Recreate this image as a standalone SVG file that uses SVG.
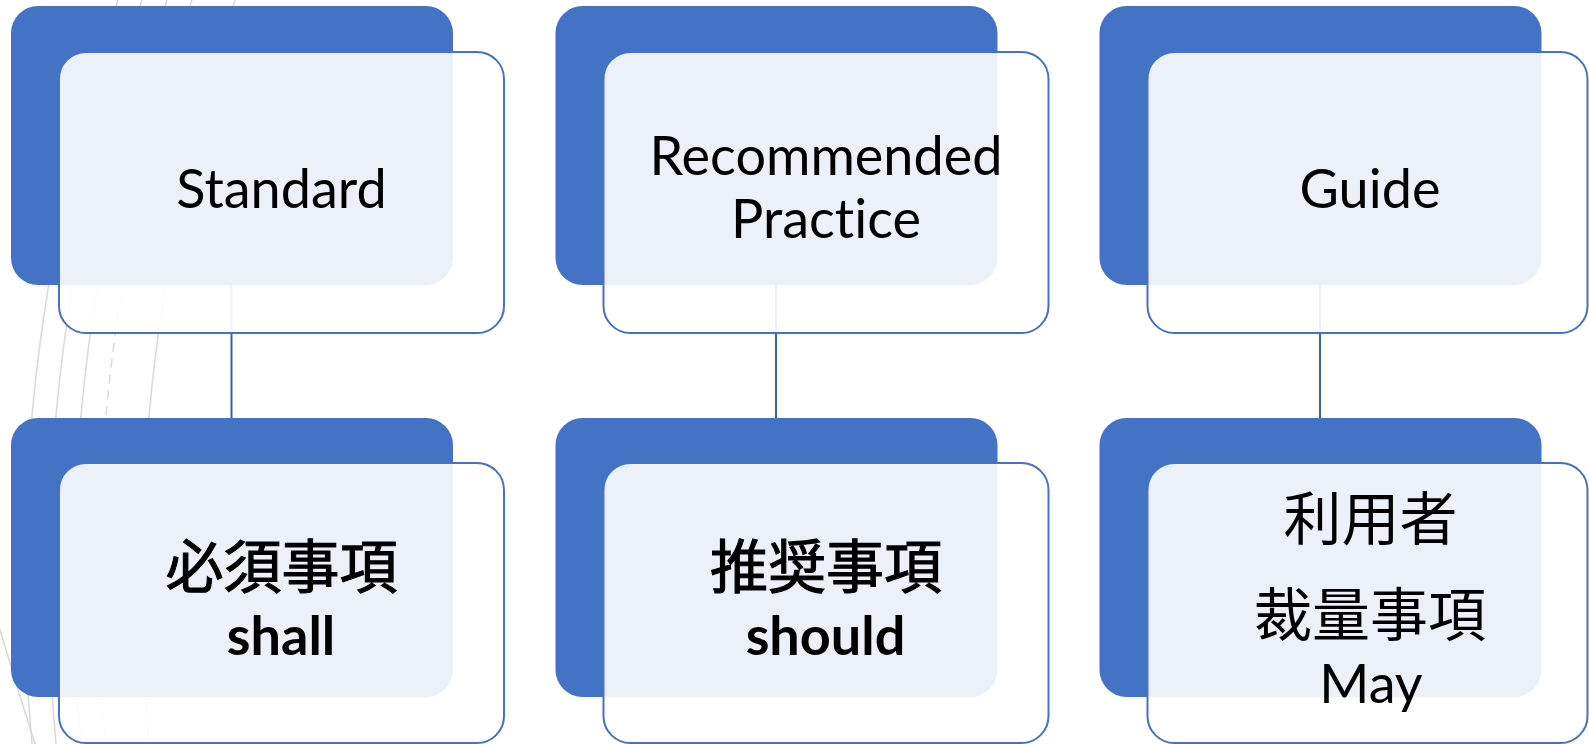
<svg xmlns="http://www.w3.org/2000/svg" width="1589" height="744" viewBox="0 0 1589 744">
  <style>
    .bg { fill: none; stroke: #D9D9D9; stroke-width: 1.5; }
    .dash { stroke-dasharray: 9 7; }
    .back { fill: #4472C4; }
    .front { fill: #FFFFFF; fill-opacity: 0.9; stroke: #4472C4; stroke-width: 2; }
    .conn { stroke: #3762AE; stroke-width: 2; fill: none; }
    .lat { font-family: Lato, "Liberation Sans", sans-serif; font-size: 54px; fill: #000; text-anchor: middle; font-variant-ligatures: none; }
    .bold { font-weight: bold; }
    .cjk { font-family: "Noto Sans CJK JP", "Noto Sans CJK SC", sans-serif; font-size: 58px; fill: #000; text-anchor: middle; }
    .cjkb { stroke: #000; stroke-width: 1.1; }
  </style>
  <rect width="1589" height="744" fill="#FFFFFF"/>
  <g id="background">
    <path class="bg" d="M118,0 Q-2,372 32,744"/>
    <path class="bg" d="M142,0 Q22,372 56,744"/>
    <path class="bg" d="M167,0 Q47,372 81,744"/>
    <path class="bg dash" d="M192,0 Q72,372 106,744"/>
    <path class="bg" d="M235,0 Q115,372 149,744"/>
    <path class="bg" d="M-20,560 Q5,650 35,744"/>
  </g>
  <g id="connectors">
    <line class="conn" x1="231.5" y1="285" x2="231.5" y2="418"/>
    <line class="conn" x1="776" y1="285" x2="776" y2="418"/>
    <line class="conn" x1="1320" y1="285" x2="1320" y2="418"/>
  </g>
  <g id="node-standard">
    <rect class="back" x="11" y="6" width="442" height="279" rx="27"/>
    <rect class="front" x="59" y="52" width="445" height="281" rx="27"/>
    <text class="lat" x="281.5" y="208">Standard</text>
  </g>
  <g id="node-recommended">
    <rect class="back" x="555.5" y="6" width="442" height="279" rx="27"/>
    <rect class="front" x="603.5" y="52" width="445" height="281" rx="27"/>
    <text class="lat" x="826" y="175">Recommended</text>
    <text class="lat" x="826" y="238">Practice</text>
  </g>
  <g id="node-guide">
    <rect class="back" x="1099.5" y="6" width="442" height="279" rx="27"/>
    <rect class="front" x="1147.5" y="52" width="440" height="281" rx="27"/>
    <text class="lat" x="1370" y="208">Guide</text>
  </g>
  <g id="node-shall">
    <rect class="back" x="11" y="418" width="442" height="279" rx="27"/>
    <rect class="front" x="59" y="463" width="445" height="280" rx="27"/>
    <text class="cjk cjkb" x="281.5" y="588">必須事項</text>
    <text class="lat bold" x="281" y="655">shall</text>
  </g>
  <g id="node-should">
    <rect class="back" x="555.5" y="418" width="442" height="279" rx="27"/>
    <rect class="front" x="603.5" y="463" width="445" height="280" rx="27"/>
    <text class="cjk cjkb" x="826" y="588">推奨事項</text>
    <text class="lat bold" x="825.5" y="655">should</text>
  </g>
  <g id="node-may">
    <rect class="back" x="1099.5" y="418" width="442" height="279" rx="27"/>
    <rect class="front" x="1147.5" y="463" width="440" height="280" rx="27"/>
    <text class="cjk" x="1370.5" y="540">利用者</text>
    <text class="cjk" x="1370" y="636">裁量事項</text>
    <text class="lat" x="1371" y="703">May</text>
  </g>
</svg>
